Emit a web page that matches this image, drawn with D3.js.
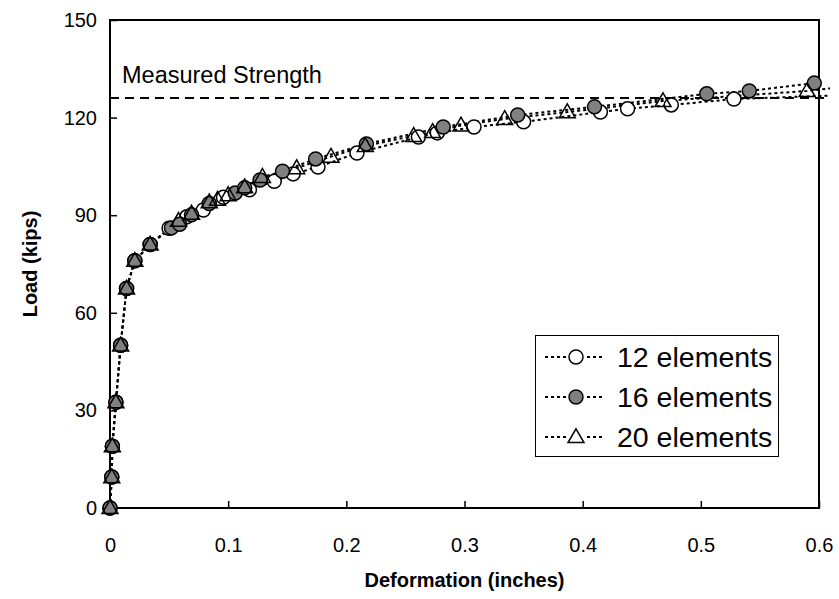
<!DOCTYPE html>
<meta charset="utf-8">
<style>
body { margin: 0; background: #fff; }
text { font-family: Arial, "Liberation Sans", sans-serif; fill: #000; }
.tick text { font-size: 20px; }
.axis-title { font-size: 20px; font-weight: bold; }
.series { fill: none; stroke: #000; stroke-width: 2px; stroke-dasharray: 3,3; }
</style>
<body>
<script src="https://d3js.org/d3.v7.min.js"></script>
<script>

// data: deformation (inches) / load (kips)
const base12 = [0, 0.0015, 0.002, 0.005, 0.009, 0.014, 0.021, 0.034];
const baseLoad = [0, 9.5, 19, 32.5, 50, 67.5, 76, 81];

const def12 = base12.concat([0.05, 0.065, 0.079, 0.096, 0.118, 0.139, 0.155, 0.176, 0.209, 0.261, 0.277, 0.308, 0.350, 0.415, 0.438, 0.475, 0.528, 0.65]);
const load12 = baseLoad.concat([86, 89.5, 91.6, 95.5, 97.8, 100.4, 102.7, 104.8, 109.1, 114.0, 115.3, 117.1, 118.7, 121.7, 122.7, 123.9, 125.7, 127.3]);

const def16 = base12.concat([0.052, 0.059, 0.069, 0.084, 0.106, 0.114, 0.127, 0.146, 0.174, 0.217, 0.282, 0.345, 0.410, 0.505, 0.541, 0.596]);
const load16 = baseLoad.concat([86.1, 87.2, 90.1, 93.6, 96.8, 98.4, 100.8, 103.5, 107.3, 111.9, 117.1, 120.8, 123.3, 127.3, 128.2, 130.6]);

const def20 = base12.concat([0.058, 0.069, 0.084, 0.091, 0.100, 0.114, 0.129, 0.158, 0.187, 0.216, 0.257, 0.273, 0.297, 0.334, 0.387, 0.468, 0.590, 0.66]);
const load20 = baseLoad.concat([88.3, 90.5, 94, 94.8, 96.2, 98.6, 101.8, 104.5, 108.0, 111.3, 114.4, 115.6, 117.6, 119.6, 121.7, 125.1, 128.2, 131]);

const seriesNames = ["12 elements", "16 elements", "20 elements"];
const xTicks = [0, 0.1, 0.2, 0.3, 0.4, 0.5, 0.6];
const yTicks = [0, 30, 60, 90, 120, 150];
const measuredStrength = 126;

const width = 839;
const height = 599;
const margin = {top: 20, right: 20, bottom: 91, left: 110};

const svg = d3.select("body").append("svg")
    .attr("width", width)
    .attr("height", height);

const x = d3.scaleLinear().domain([0, 0.6]).range([margin.left, width - margin.right]);
const y = d3.scaleLinear().domain([0, 150]).range([height - margin.bottom, margin.top]);

svg.append("defs").append("clipPath").attr("id", "clip")
  .append("rect")
    .attr("x", margin.left).attr("y", 0)
    .attr("width", width - margin.right - margin.left + 11)
    .attr("height", height - margin.bottom);

// axes with inside ticks
const xAxis = svg.append("g")
    .attr("transform", `translate(0,${y(0)})`)
    .call(d3.axisBottom(x).tickValues(xTicks).tickSize(-7).tickPadding(30)
        .tickFormat(d => d === 0 ? "0" : d3.format(".1f")(d)));
const yAxis = svg.append("g")
    .attr("transform", `translate(${x(0)},0)`)
    .call(d3.axisLeft(y).tickValues(yTicks).tickSize(-7).tickPadding(13));

[xAxis, yAxis].forEach(a => {
  a.select(".domain").remove();
  a.selectAll(".tick line").attr("stroke", "#000").attr("stroke-width", 1.5);
});

// frame
svg.append("rect")
    .attr("x", x(0)).attr("y", y(150))
    .attr("width", x(0.6) - x(0)).attr("height", y(0) - y(150))
    .attr("fill", "none").attr("stroke", "#000").attr("stroke-width", 2);

// measured strength
svg.append("line")
    .attr("x1", x(0)).attr("x2", x(0.6) + 11)
    .attr("y1", y(measuredStrength)).attr("y2", y(measuredStrength))
    .attr("stroke", "#000").attr("stroke-width", 2).attr("stroke-dasharray", "9,6");
svg.append("text")
    .attr("x", 122).attr("y", y(measuredStrength) - 15)
    .style("font-size", "23.5px")
    .text("Measured Strength");

const line = d3.line().x(d => x(d[0])).y(d => y(d[1]));
const pairs = (xs, ys) => xs.map((v, i) => [v, ys[i]]);
const sets = [pairs(def12, load12), pairs(def16, load16), pairs(def20, load20)];

const g = svg.append("g").attr("clip-path", "url(#clip)");
sets.forEach(s => g.append("path").attr("class", "series").attr("d", line(s)));

const triangle = d3.symbol().type(d3.symbolTriangle).size(110);

function marker(sel, i) {
  if (i === 2) {
    sel.append("path").attr("d", triangle)
        .attr("transform", "translate(0,1)")
        .attr("fill", "none").attr("stroke", "#000").attr("stroke-width", 1.5);
  } else {
    sel.append("circle").attr("r", 7)
        .attr("fill", i === 0 ? "#fff" : "#808080")
        .attr("stroke", "#000").attr("stroke-width", 1.5);
  }
}

sets.forEach((s, i) => {
  svg.append("g").selectAll("g")
      .data(s.filter(d => d[0] <= 0.6))
    .enter().append("g")
      .attr("transform", d => `translate(${x(d[0])},${y(d[1])})`)
      .each(function() { marker(d3.select(this), i); });
});

// legend
const legend = svg.append("g");
legend.append("rect")
    .attr("x", 535.5).attr("y", 335.5).attr("width", 243).attr("height", 121)
    .attr("fill", "#fff").attr("stroke", "#000").attr("stroke-width", 1);

seriesNames.forEach((name, i) => {
  const cy = 357 + i * 40;
  legend.append("line")
      .attr("x1", 545).attr("x2", 603).attr("y1", cy).attr("y2", cy)
      .attr("class", "series");
  const m = legend.append("g").attr("transform", `translate(576,${cy})`);
  m.append("rect").attr("x", -9).attr("y", -9).attr("width", 18).attr("height", 18).attr("fill", "#fff");
  marker(m, i);
  legend.append("text")
      .attr("x", 617).attr("y", cy + 10)
      .style("font-size", "28.5px")
      .text(name);
});

// axis titles
svg.append("text")
    .attr("class", "axis-title")
    .attr("x", (x(0) + x(0.6)) / 2).attr("y", 587)
    .attr("text-anchor", "middle")
    .text("Deformation (inches)");
svg.append("text")
    .attr("class", "axis-title")
    .attr("transform", `translate(37,${(y(0) + y(150)) / 2}) rotate(-90)`)
    .attr("text-anchor", "middle")
    .text("Load (kips)");

</script>
</body>
